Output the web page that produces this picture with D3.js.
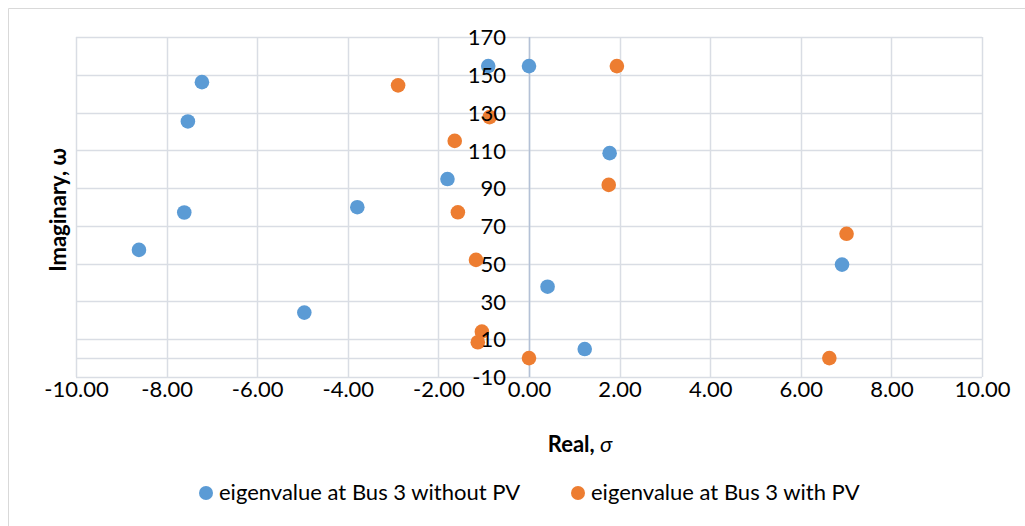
<!DOCTYPE html>
<html>
<head>
<meta charset="utf-8">
<script src="https://cdn.jsdelivr.net/npm/d3@7/dist/d3.min.js"></script>
<style>
  html, body { margin: 0; padding: 0; background: #fff; }
  svg { display: block; }
  text { font-family: Lato, "Open Sans", sans-serif; fill: #000; }
</style>
</head>
<body>
<svg id="chart" width="1025" height="526"></svg>
<script>
// ---- data ----
const seriesNames = ["eigenvalue at Bus 3 without PV", "eigenvalue at Bus 3 with PV"];
const withoutPvReal = [-7.22, -7.53, -1.80, -0.90, 0.00, 1.78, -7.61, -8.61, -3.79, -4.96, 6.91, 0.41, 1.23];
const withoutPvImag = [146.1, 125.3, 94.8, 154.6, 154.6, 108.5, 77.1, 57.3, 79.9, 24.1, 49.5, 37.8, 4.8];
const withPvReal = [-2.89, 1.94, -0.87, -1.64, 1.76, -1.57, -1.17, -1.04, -1.13, 7.01, 0.00, 6.63];
const withPvImag = [144.4, 154.6, 127.6, 115.0, 91.7, 77.2, 52.0, 14.0, 8.4, 65.8, 0.0, 0.0];
const xTicks = [-10, -8, -6, -4, -2, 0, 2, 4, 6, 8, 10];
const yTicks = [-10, 10, 30, 50, 70, 90, 110, 130, 150, 170];
const xTitle = "Real, ";
const xTitleSym = "σ";
const yTitle = "Imaginary, ω";

const colors = ["#5B9BD5", "#ED7D31"];

const svg = d3.select("#chart");
const W = 1025, H = 526;
const plot = { left: 76, right: 982, top: 37, bottom: 377 };

// chart area border
svg.append("path")
  .attr("d", `M8.5,${H} V8.5 H${W}`)
  .attr("fill", "none").attr("stroke", "#D9D9D9").attr("stroke-width", 1);

const x = d3.scaleLinear().domain([-10, 10]).range([plot.left, plot.right]);
const y = d3.scaleLinear().domain([-10, 170]).range([plot.bottom, plot.top]);

const grid = svg.append("g");
const gridColor = "#D9DDE4";
grid.selectAll("line.v").data(xTicks).join("line")
  .attr("x1", d => Math.round(x(d)) + 0.5).attr("x2", d => Math.round(x(d)) + 0.5)
  .attr("y1", plot.top).attr("y2", plot.bottom)
  .attr("stroke", gridColor).attr("stroke-width", 1.5);
grid.selectAll("line.h").data(yTicks).join("line")
  .attr("y1", d => Math.round(y(d)) + 0.5).attr("y2", d => Math.round(y(d)) + 0.5)
  .attr("x1", plot.left).attr("x2", plot.right)
  .attr("stroke", gridColor).attr("stroke-width", 1.5);
grid.append("line")
  .attr("y1", Math.round(y(0)) + 0.5).attr("y2", Math.round(y(0)) + 0.5)
  .attr("x1", plot.left).attr("x2", plot.right)
  .attr("stroke", gridColor).attr("stroke-width", 1.5);
grid.append("line")
  .attr("x1", Math.round(x(0)) + 0.5).attr("x2", Math.round(x(0)) + 0.5)
  .attr("y1", plot.top).attr("y2", plot.bottom)
  .attr("stroke", "#B4C1D6").attr("stroke-width", 1.5);

// points
const series = [
  withoutPvReal.map((r, i) => ({ r, im: withoutPvImag[i] })),
  withPvReal.map((r, i) => ({ r, im: withPvImag[i] }))
];
series.forEach((pts, si) => {
  svg.append("g").selectAll("circle").data(pts).join("circle")
    .attr("cx", d => x(d.r)).attr("cy", d => y(d.im))
    .attr("r", 7.3).attr("fill", colors[si]);
});

const hy = f => d => f(d).replace("\u2212", "-");

// x axis labels (at bottom)
const xAxis = d3.axisBottom(x).tickValues(xTicks).tickFormat(hy(d3.format(".2f"))).tickSize(0).tickPadding(0);
const gx = svg.append("g").attr("transform", `translate(0, ${plot.bottom})`).call(xAxis);
gx.select(".domain").remove();
gx.selectAll("text").attr("font-family", "Lato, sans-serif").attr("font-size", 22)
  .attr("fill", "#000").attr("dy", null).attr("y", 20);

// y axis labels (at x = 0)
const yAxis = d3.axisLeft(y).tickValues(yTicks).tickFormat(hy(d3.format("d"))).tickSize(0).tickPadding(23);
const gy = svg.append("g").attr("transform", `translate(${x(0)}, 0)`).call(yAxis);
gy.select(".domain").remove();
gy.selectAll("text").attr("font-family", "Lato, sans-serif").attr("font-size", 22)
  .attr("fill", "#000").attr("dy", "0.35em");

// axis titles
const xt = svg.append("text").attr("x", 580).attr("y", 452)
  .attr("text-anchor", "middle").attr("font-size", 22).attr("font-weight", "bold");
xt.append("tspan").text(xTitle);
xt.append("tspan").attr("font-style", "italic").attr("font-weight", "normal").text(xTitleSym);

svg.append("text")
  .attr("transform", `translate(66, 210) rotate(-90)`)
  .attr("text-anchor", "middle").attr("font-size", 22).attr("font-weight", "bold")
  .text(yTitle);

// legend
const legendX = [206, 578];
seriesNames.forEach((name, i) => {
  svg.append("circle").attr("cx", legendX[i]).attr("cy", 493).attr("r", 7).attr("fill", colors[i]);
  svg.append("text").attr("x", legendX[i] + 13).attr("y", 500)
    .attr("font-size", 22).text(name);
});
</script>
</body>
</html>
